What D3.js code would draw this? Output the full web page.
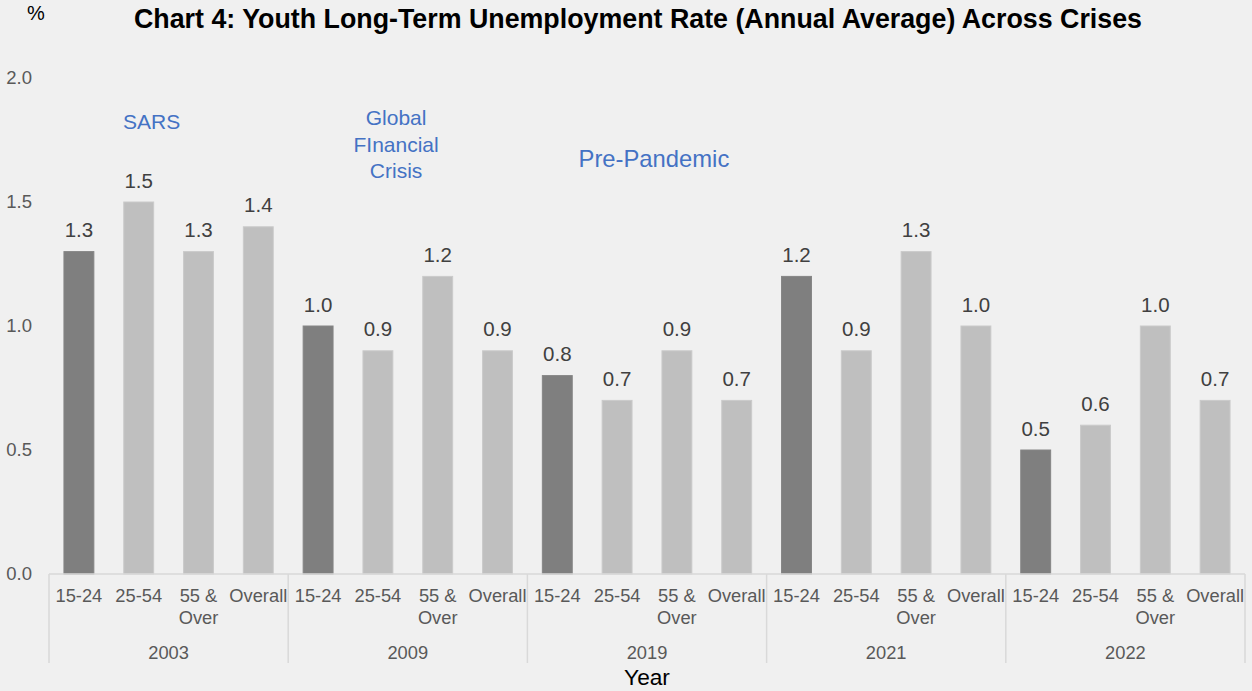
<!DOCTYPE html>
<html>
<head>
<meta charset="utf-8">
<script src="https://cdn.jsdelivr.net/npm/d3@7"></script>
<style>
  html, body { margin: 0; padding: 0; background: #f0f0f0; }
  svg { display: block; font-family: "Liberation Sans", Arial, sans-serif; }
</style>
</head>
<body>
<svg id="chart" width="1252" height="691"></svg>
<script>
// Long-term unemployment rate (%) by age group, annual averages
const years = ["2003", "2009", "2019", "2021", "2022"];
const ageGroups = ["15-24", "25-54", "55 & Over", "Overall"];
const rates = {
  "2003": [1.3, 1.5, 1.3, 1.4],
  "2009": [1.0, 0.9, 1.2, 0.9],
  "2019": [0.8, 0.7, 0.9, 0.7],
  "2021": [1.2, 0.9, 1.3, 1.0],
  "2022": [0.5, 0.6, 1.0, 0.7]
};
const yTicks = [0, 0.5, 1.0, 1.5, 2.0];
const crisisNotes = [
  { year: "2003", lines: ["SARS"] },
  { year: "2009", lines: ["Global", "FInancial", "Crisis"] },
  { year: "2019", lines: ["Pre-Pandemic"] }
];

const svg = d3.select("#chart");
const plotLeft = 49, plotRight = 1245, plotTop = 78, plotBottom = 574;

const x0 = d3.scaleBand().domain(years).range([plotLeft, plotRight]);
const x1 = d3.scaleBand().domain(ageGroups).range([0, x0.bandwidth()]).paddingInner(0.5).paddingOuter(0.25);
const y = d3.scaleLinear().domain([0, 2]).range([plotBottom, plotTop]);
const fmt = d3.format(".1f");

// Title and unit
svg.append("text").attr("x", 638).attr("y", 28).attr("text-anchor", "middle")
  .attr("font-size", 26.8).attr("font-weight", "bold").attr("fill", "#000")
  .text("Chart 4: Youth Long-Term Unemployment Rate (Annual Average) Across Crises");
svg.append("text").attr("x", 36).attr("y", 20).attr("text-anchor", "middle")
  .attr("font-size", 20).attr("fill", "#000").text("%");

// Y axis labels (no axis line)
const yAxis = svg.append("g").attr("transform", `translate(${plotLeft - 14},0)`)
  .call(d3.axisLeft(y).tickValues(yTicks).tickFormat(fmt).tickSize(0));
yAxis.select(".domain").remove();
yAxis.selectAll("text").attr("font-size", 18.5).attr("fill", "#595959")
  .attr("font-family", "Liberation Sans, Arial, sans-serif");

// Bars
const groups = svg.append("g").selectAll("g").data(years).join("g")
  .attr("transform", d => `translate(${x0(d)},0)`);

const rows = yr => rates[yr].map((v, i) => ({ g: ageGroups[i], v }));

groups.selectAll("rect").data(rows)
  .join("rect")
  .attr("x", d => x1(d.g))
  .attr("width", x1.bandwidth())
  .attr("y", d => y(d.v))
  .attr("height", d => y(0) - y(d.v))
  .attr("fill", d => d.g === "15-24" ? "#7f7f7f" : "#bfbfbf")
  .attr("stroke", d => d.g === "15-24" ? "#858585" : "#cacaca")
  .attr("stroke-width", 1);

groups.selectAll("text.val").data(rows)
  .join("text").attr("class", "val")
  .attr("x", d => x1(d.g) + x1.bandwidth() / 2)
  .attr("y", d => y(d.v) - 14.5)
  .attr("text-anchor", "middle").attr("font-size", 20.5).attr("fill", "#404040")
  .text(d => fmt(d.v));

// Category axis: baseline, group separators, labels
const axisG = svg.append("g");
axisG.append("line").attr("x1", plotLeft).attr("x2", plotRight).attr("y1", plotBottom).attr("y2", plotBottom)
  .attr("stroke", "#d9d9d9").attr("stroke-width", 1.5);
const seps = years.map(d => x0(d)).concat([plotRight]);
axisG.selectAll("line.sep").data(seps).join("line").attr("class", "sep")
  .attr("x1", d => d).attr("x2", d => d).attr("y1", plotBottom).attr("y2", 663)
  .attr("stroke", "#d9d9d9").attr("stroke-width", 1.5);

groups.selectAll("text.cat").data(ageGroups).join("text").attr("class", "cat")
  .attr("y", 602)
  .attr("text-anchor", "middle").attr("font-size", 18.3).attr("fill", "#595959")
  .each(function (d) {
    const words = d === "55 & Over" ? ["55 &", "Over"] : [d];
    d3.select(this).selectAll("tspan").data(words).join("tspan")
      .attr("x", x1(d) + x1.bandwidth() / 2)
      .attr("dy", (w, i) => i === 0 ? 0 : 21.5)
      .text(w => w);
  });

groups.append("text").attr("x", x0.bandwidth() / 2).attr("y", 658.5)
  .attr("text-anchor", "middle").attr("font-size", 18.3).attr("fill", "#595959")
  .text(d => d);

svg.append("text").attr("x", (plotLeft + plotRight) / 2).attr("y", 685).attr("text-anchor", "middle")
  .attr("font-size", 22.7).attr("fill", "#000").text("Year");

// Crisis annotations: horizontal position as a share of the year group, first baseline, size
const noteLayout = {
  "2003": { frac: 0.429, baseline: 128.5, size: 21 },
  "2009": { frac: 0.451, baseline: 125, size: 21 },
  "2019": { frac: 0.529, baseline: 166.5, size: 23.8 }
};
crisisNotes.forEach(n => {
  const L = noteLayout[n.year];
  const cx = x0(n.year) + x0.bandwidth() * L.frac;
  const t = svg.append("text").attr("text-anchor", "middle").attr("font-size", L.size).attr("fill", "#4472c4");
  n.lines.forEach((line, i) => {
    t.append("tspan").attr("x", cx).attr("y", L.baseline + i * 26.7).text(line);
  });
});
</script>
</body>
</html>
